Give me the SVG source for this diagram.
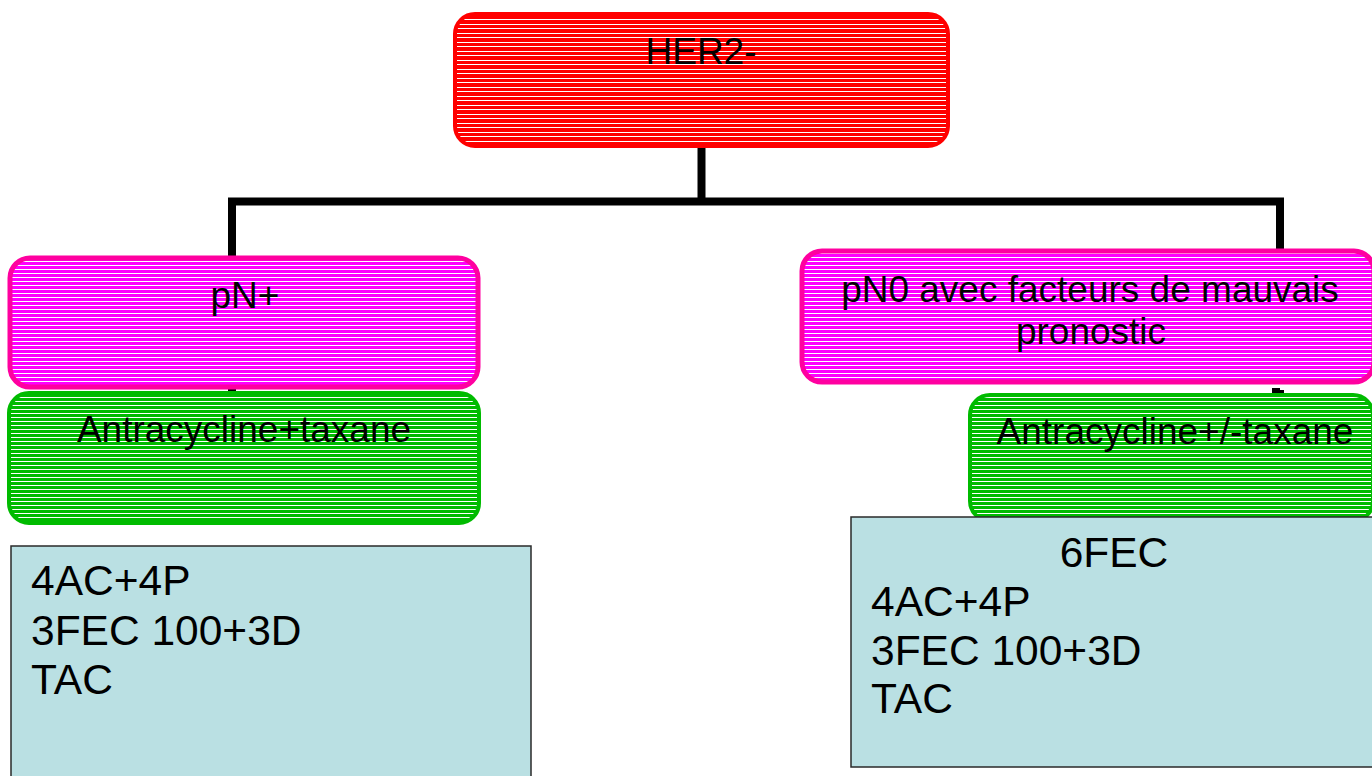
<svg xmlns="http://www.w3.org/2000/svg" width="1372" height="776" viewBox="0 0 1372 776">
  <defs>
    <!-- thin white horizontal hatching laid over the coloured boxes -->
    <pattern id="hatch" patternUnits="userSpaceOnUse" width="12" height="9">
      <rect x="0" y="1" width="12" height="1" fill="#ffffff"/>
      <rect x="0" y="6" width="12" height="1" fill="#ffffff"/>
    </pattern>
    <pattern id="hatch4" patternUnits="userSpaceOnUse" width="12" height="4">
      <rect x="0" y="1" width="12" height="1" fill="#ffffff"/>
    </pattern>
  </defs>
  <style>
    .lbl { font-family: "Liberation Sans", Arial, sans-serif; font-size: 37px; fill: #000; }
    .big { font-family: "Liberation Sans", Arial, sans-serif; font-size: 42.5px; fill: #000; }
    .mid { text-anchor: middle; }
    .red { fill: #ff0000; }
    .pink { fill: #ff00ff; }
    .green { fill: #00bb00; }
    .edge-red { fill: none; stroke: #ff0000; stroke-width: 4; }
    .edge-pink { fill: none; stroke: #ff00a0; stroke-width: 5; }
    .edge-green { fill: none; stroke: #00bb00; stroke-width: 4; }
    .note { fill: #bae0e3; stroke: #2a2a2a; stroke-width: 1.5; }
    .wire { fill: none; stroke: #000; stroke-width: 8; stroke-linejoin: miter; stroke-linecap: butt; }
  </style>

  <!-- connectors -->
  <g id="connectors">
    <path class="wire" d="M701.5 146 V201.5"/>
    <path class="wire" d="M232 257 V201.5 H1280 V251"/>
    <path d="M228 388 H236 V391 H228 Z" fill="#000"/>
    <path d="M1272 388 H1280 V390 H1284 V394 H1272 Z" fill="#000"/>
  </g>

  <!-- root -->
  <g id="her2">
    <rect class="red" x="455" y="14" width="493" height="132" rx="20"/>
    <rect fill="url(#hatch)" x="455" y="14" width="493" height="132" rx="20"/>
    <rect class="edge-red" x="455" y="14" width="493" height="132" rx="20"/>
    <text class="lbl mid" x="701" y="64">HER2-</text>
  </g>

  <!-- left branch -->
  <g id="pn-plus">
    <rect class="pink" x="10" y="258" width="468" height="129" rx="20"/>
    <rect fill="url(#hatch4)" x="10" y="258" width="468" height="129" rx="20"/>
    <rect class="edge-pink" x="10" y="258" width="468" height="129" rx="20"/>
    <text class="lbl mid" x="245" y="308">pN+</text>
  </g>

  <g id="antra-taxane">
    <rect class="green" x="9" y="393" width="470" height="130" rx="20"/>
    <rect fill="url(#hatch4)" x="9" y="393" width="470" height="130" rx="20"/>
    <rect class="edge-green" x="9" y="393" width="470" height="130" rx="20"/>
    <text class="lbl mid" x="244" y="442">Antracycline+taxane</text>
  </g>

  <g id="regimens-left">
    <rect class="note" x="11" y="546" width="520" height="240"/>
    <text class="big" x="31" y="595">4AC+4P</text>
    <text class="big" x="31" y="645">3FEC 100+3D</text>
    <text class="big" x="31" y="694">TAC</text>
  </g>

  <!-- right branch -->
  <g id="pn0">
    <rect class="pink" x="802" y="251" width="572" height="131" rx="20"/>
    <rect fill="url(#hatch4)" x="802" y="251" width="572" height="131" rx="20"/>
    <rect class="edge-pink" x="802" y="251" width="572" height="131" rx="20"/>
    <text class="lbl mid" x="1090" y="302">pN0 avec facteurs de mauvais</text>
    <text class="lbl mid" x="1091" y="344">pronostic</text>
  </g>

  <g id="antra-taxane-opt">
    <rect class="green" x="970" y="395" width="403" height="126" rx="20"/>
    <rect fill="url(#hatch4)" x="970" y="395" width="403" height="126" rx="20"/>
    <rect class="edge-green" x="970" y="395" width="403" height="126" rx="20"/>
    <text class="lbl mid" x="1175" y="444">Antracycline+/-taxane</text>
  </g>

  <g id="regimens-right">
    <rect class="note" x="851" y="517" width="530" height="250"/>
    <text class="big mid" x="1114" y="567">6FEC</text>
    <text class="big" x="871" y="616">4AC+4P</text>
    <text class="big" x="871" y="665">3FEC 100+3D</text>
    <text class="big" x="871" y="713">TAC</text>
  </g>
</svg>
